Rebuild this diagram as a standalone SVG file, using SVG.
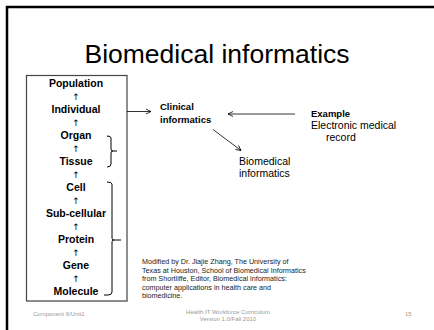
<svg xmlns="http://www.w3.org/2000/svg" width="434" height="330" viewBox="0 0 434 330">
<style>
text{font-family:"Liberation Sans",Arial,sans-serif;fill:#000}
.lv{font-size:10.5px;font-weight:bold;text-anchor:middle}
.up{font-size:9px;text-anchor:middle;font-family:"DejaVu Sans",sans-serif}
.b{font-size:9.5px;font-weight:bold}
.r{font-size:10.5px}
.cite{font-size:7.2px;fill:#222}
.foot{font-size:6px;fill:#999}
.ln{stroke:#000;stroke-width:0.8;fill:none}
.br{stroke:#000;stroke-width:1;fill:none}
</style>
<defs>
<marker id="ah" markerWidth="8" markerHeight="8" refX="6" refY="4" orient="auto" markerUnits="userSpaceOnUse">
<path d="M1,1.5 L6,4 L1,6.5" fill="none" stroke="#000" stroke-width="0.8"/>
</marker>
</defs>
<rect width="434" height="330" fill="#fff"/>
<path d="M7,330 V7 H434" fill="none" stroke="#000" stroke-width="2.5"/>
<text x="217" y="63" font-size="26.5" text-anchor="middle">Biomedical informatics</text>
<g id="hierarchy">
<rect x="26.5" y="75.5" width="100.5" height="225.5" fill="#fff" stroke="#444" stroke-width="1.2"/>
<line x1="27" y1="301.5" x2="127.5" y2="301.5" stroke="#888" stroke-width="1"/>
<text class="lv" x="76" y="87">Population</text>
<text class="up" x="76" y="100">↑</text>
<text class="lv" x="76" y="113">Individual</text>
<text class="up" x="76" y="126">↑</text>
<text class="lv" x="76" y="139">Organ</text>
<text class="up" x="76" y="152">↑</text>
<text class="lv" x="76" y="165">Tissue</text>
<text class="up" x="76" y="178">↑</text>
<text class="lv" x="76" y="191">Cell</text>
<text class="up" x="76" y="204">↑</text>
<text class="lv" x="76" y="217">Sub-cellular</text>
<text class="up" x="76" y="230">↑</text>
<text class="lv" x="76" y="243">Protein</text>
<text class="up" x="76" y="256">↑</text>
<text class="lv" x="76" y="269">Gene</text>
<text class="up" x="76" y="282">↑</text>
<text class="lv" x="76" y="295">Molecule</text>
<path class="br" d="M107,136 Q111,136 111,138 V149 Q111,151 113,151 H117 M113,151 Q111,151 111,153 V164 Q111,167 107,167"/>
<path class="br" d="M107,182 Q112,182 112,184 V238 Q112,240 114,240 H121 M114,240 Q112,240 112,242 V292 Q112,295 108,295 H104"/>
</g>
<g id="clinical">
<text class="b" x="160" y="110">Clinical</text>
<text class="b" x="160" y="123">informatics</text>
</g>
<g id="biomedical">
<text class="r" x="239" y="165">Biomedical</text>
<text class="r" x="239" y="177">informatics</text>
</g>
<g id="example">
<text class="b" x="311" y="117" font-size="10.5">Example</text>
<text class="r" x="311" y="129">Electronic medical</text>
<text class="r" x="326" y="141">record</text>
</g>
<g id="citation">
<text class="cite" x="142" y="264">Modified by Dr. Jiajie Zhang, The University of</text>
<text class="cite" x="142" y="272.5">Texas at Houston, School of Biomedical Informatics</text>
<text class="cite" x="142" y="281">from Shortliffe, Editor, Biomedical informatics:</text>
<text class="cite" x="142" y="289.5">computer applications  in health care and</text>
<text class="cite" x="142" y="298">biomedicine.</text>
</g>
<g id="footer">
<text class="foot" x="33" y="316">Component 6/Unit1</text>
<text class="foot" x="228" y="314" text-anchor="middle" font-size="6.5">Health IT Workforce Curriculum</text>
<text class="foot" x="228" y="321" text-anchor="middle" font-size="6.5">Version 1.0/Fall 2010</text>
<text class="foot" x="405" y="316">15</text>
</g>
<g id="connectors">
<line class="ln" x1="127" y1="111.5" x2="151" y2="111.5" marker-end="url(#ah)"/>
<line class="ln" x1="295" y1="114" x2="228" y2="114" stroke="#555" marker-end="url(#ah)"/>
<line class="ln" x1="213" y1="129.5" x2="241" y2="150.5" marker-end="url(#ah)"/>
</g>
</svg>
